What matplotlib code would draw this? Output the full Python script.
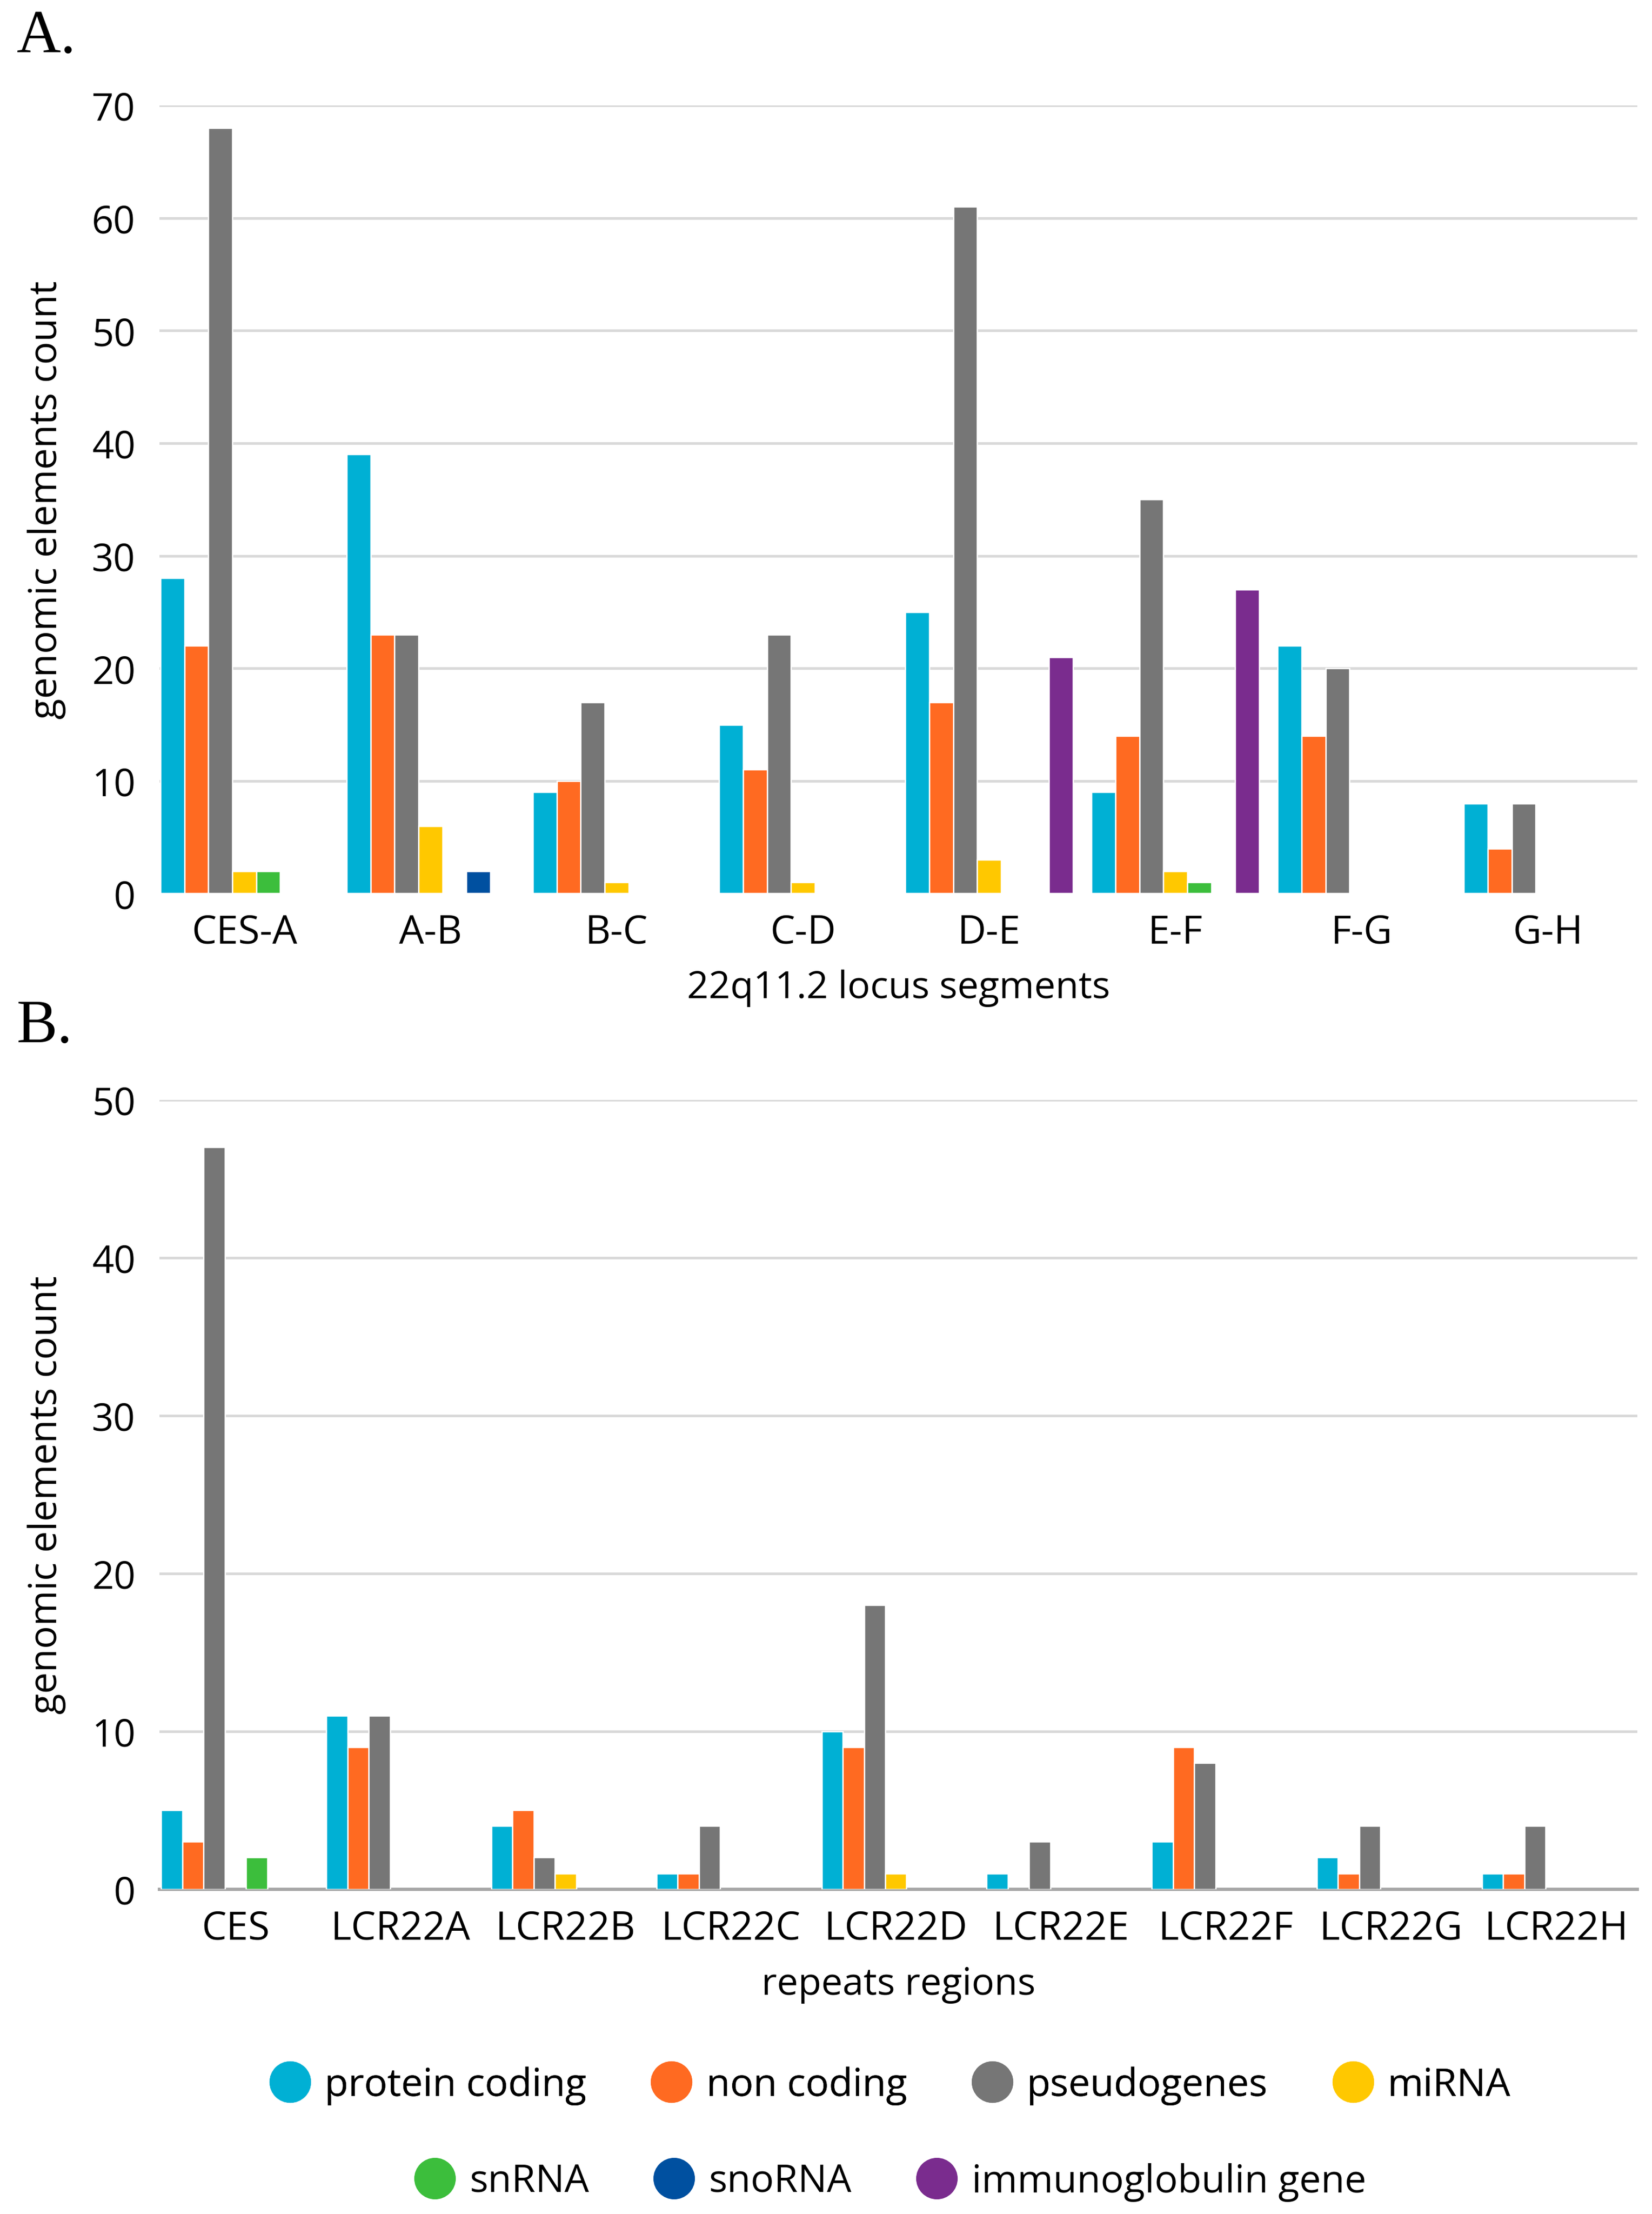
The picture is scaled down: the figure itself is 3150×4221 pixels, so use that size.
import matplotlib
matplotlib.use("Agg")
import matplotlib.pyplot as plt
from matplotlib.lines import Line2D
import numpy as np

plt.rcParams['font.family'] = ['Open Sans', 'DejaVu Sans']

series_names = ["protein coding", "non coding", "pseudogenes", "miRNA",
                "snRNA", "snoRNA", "immunoglobulin gene"]
series_colors = ["#00B0D4", "#FF6A21", "#767676", "#FFC800",
                 "#3CBE3C", "#0050A0", "#7A2C8E"]

# panel A: 22q11.2 locus segments
segments = ["CES-A", "A-B", "B-C", "C-D", "D-E", "E-F", "F-G", "G-H"]
seg_protein = [28, 39, 9, 15, 25, 9, 22, 8]
seg_noncoding = [22, 23, 10, 11, 17, 14, 14, 4]
seg_pseudo = [68, 23, 17, 23, 61, 35, 20, 8]
seg_mirna = [2, 6, 1, 1, 3, 2, 0, 0]
seg_snrna = [2, 0, 0, 0, 0, 1, 0, 0]
seg_snorna = [0, 2, 0, 0, 0, 0, 0, 0]
seg_immuno = [0, 0, 0, 0, 21, 27, 0, 0]

# panel B: repeats regions
regions = ["CES", "LCR22A", "LCR22B", "LCR22C", "LCR22D", "LCR22E",
           "LCR22F", "LCR22G", "LCR22H"]
reg_protein = [5, 11, 4, 1, 10, 1, 3, 2, 1]
reg_noncoding = [3, 9, 5, 1, 9, 0, 9, 1, 1]
reg_pseudo = [47, 11, 2, 4, 18, 3, 8, 4, 4]
reg_mirna = [0, 0, 1, 0, 1, 0, 0, 0, 0]
reg_snrna = [2, 0, 0, 0, 0, 0, 0, 0, 0]
reg_snorna = [0, 0, 0, 0, 0, 0, 0, 0, 0]
reg_immuno = [0, 0, 0, 0, 0, 0, 0, 0, 0]


def grouped_bars(ax, cats, series, ymax, xlim):
    n = len(series)
    w = 0.9 / n
    x = np.arange(len(cats))
    for j, vals in enumerate(series):
        vals = np.array(vals, dtype=float)
        keep = vals > 0
        ax.bar(x[keep] + (j - (n - 1) / 2) * w, vals[keep], width=w,
               color=series_colors[j], edgecolor="white", linewidth=0.6,
               zorder=3)
    ax.set_xticks(x)
    ax.set_xticklabels(cats, fontsize=18)
    ax.set_ylim(0, ymax)
    ax.set_yticks(np.arange(0, ymax + 1, 10))
    ax.tick_params(axis="y", labelsize=17.5, length=0, pad=11)
    ax.tick_params(axis="x", length=0, pad=9)
    ax.set_xlim(*xlim)
    ax.grid(axis="y", color="#D9D9D9", linewidth=1.2, zorder=0)
    ax.set_axisbelow(True)
    for s in ["top", "right", "left", "bottom"]:
        ax.spines[s].set_visible(False)


fig = plt.figure(figsize=(10.5, 14.073), dpi=300)

axA = fig.add_axes([0.0966, 0.5963, 0.8944, 0.3559])
grouped_bars(axA, segments,
             [seg_protein, seg_noncoding, seg_pseudo, seg_mirna,
              seg_snrna, seg_snorna, seg_immuno], 70, (-0.455, 7.48))
axA.yaxis.get_gridlines()[0].set_visible(False)
axA.text(0.5, -0.12, "22q11.2 locus segments", transform=axA.transAxes,
         ha="center", va="center", fontsize=17.3)

axB = fig.add_axes([0.0966, 0.1467, 0.8944, 0.3565])
grouped_bars(axB, regions,
             [reg_protein, reg_noncoding, reg_pseudo, reg_mirna,
              reg_snrna, reg_snorna, reg_immuno], 50, (-0.46, 8.49))
axB.yaxis.get_gridlines()[0].set_visible(False)
axB.spines["bottom"].set_visible(True)
axB.spines["bottom"].set_color("#A6A6A6")
axB.spines["bottom"].set_linewidth(1.5)
axB.text(0.5, -0.121, "repeats regions", transform=axB.transAxes,
         ha="center", va="center", fontsize=17.3)

for ax in (axA, axB):
    ax.text(-0.0764, 0.5, "genomic elements count", transform=ax.transAxes,
            rotation=90, ha="center", va="center", fontsize=17.5)

fig.text(0.010, 0.983, "A.", family="Liberation Serif", fontsize=28,
         ha="left", va="center")
fig.text(0.010, 0.536, "B.", family="Liberation Serif", fontsize=28,
         ha="left", va="center")

handles = [Line2D([], [], marker="o", linestyle="", markersize=18,
                  markerfacecolor=c, markeredgecolor=c) for c in series_colors]
leg1 = fig.legend(handles[:4], series_names[:4], loc="center",
                  bbox_to_anchor=(0.538, 0.058), ncol=4, frameon=False,
                  fontsize=17.7, handlelength=1.2, handletextpad=0.3,
                  columnspacing=1.6)
fig.add_artist(leg1)
fig.legend(handles[4:], series_names[4:], loc="center",
           bbox_to_anchor=(0.538, 0.0145), ncol=3, frameon=False,
           fontsize=17.7, handlelength=1.2, handletextpad=0.3,
           columnspacing=1.6)

fig.savefig("out.png", dpi=300)
